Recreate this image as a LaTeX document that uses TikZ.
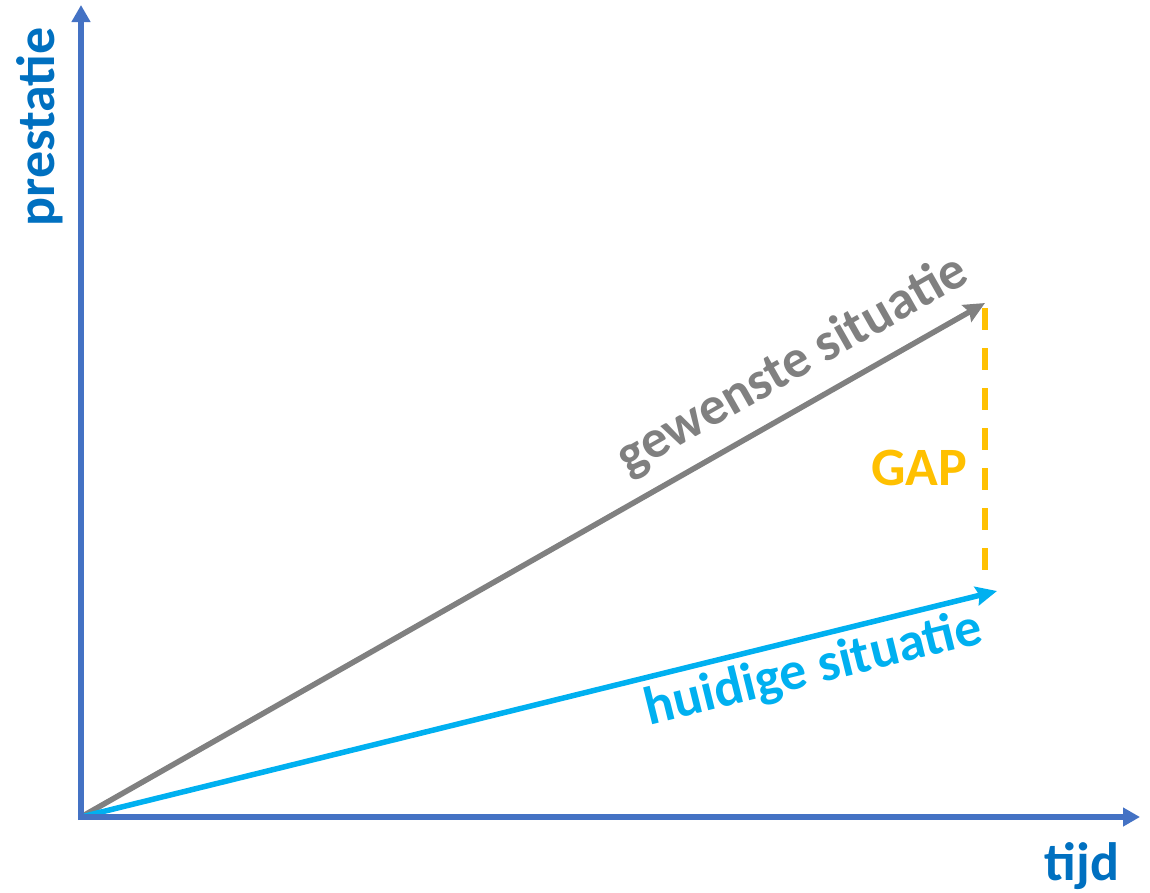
\documentclass[tikz,border=0pt]{standalone}
\usepackage{fontspec}
\setmainfont{Carlito}
\usetikzlibrary{arrows.meta}
\definecolor{axisblue}{HTML}{4472C4}
\definecolor{labelblue}{HTML}{0070C0}
\definecolor{lightblue}{HTML}{00B0F0}
\definecolor{gapgold}{HTML}{FFC000}
\definecolor{midgray}{HTML}{808080}
\tikzset{
  axisline/.style={draw=axisblue, line width=6pt, -{Triangle[length=17pt,width=18pt]}},
  trendline/.style={line width=5.5pt, -{Stealth[length=21pt,width=19pt,inset=3pt]}},
  gapline/.style={draw=gapgold, line width=6pt, dash pattern=on 22pt off 18pt},
  lbl/.style={inner sep=0pt, anchor=base, font=\fontsize{54pt}{60pt}\selectfont\bfseries},
}
\begin{document}
\begin{tikzpicture}[x=1pt,y=-1pt]
\useasboundingbox (0,0) rectangle (1150,892);
\coordinate (O) at (81,817);
\coordinate (ycorner) at (81,820);
\coordinate (xcorner) at (78,817);
\coordinate (ytip) at (81,5);
\coordinate (xtip) at (1140,817);
\coordinate (gtip) at (985,303);
\coordinate (htip) at (997,591);
\coordinate (gaptop) at (985,308);
\coordinate (gapbot) at (985,576);
% trend lines
\draw[trendline, draw=midgray] (O) -- (gtip);
\draw[trendline, draw=lightblue] (O) -- (htip);
% axes
\draw[axisline] (ycorner) -- (ytip);
\draw[axisline] (xcorner) -- (xtip);
% gap
\draw[gapline] (gaptop) -- (gapbot);
% labels
\node[lbl, text=labelblue, rotate=90] (prestatie) at (54,127) {prestatie};
\node[lbl, text=labelblue] (tijd) at (1082,880) {tijd};
\node[lbl, text=midgray, rotate=29.55] (gewenst) at (800,378) {gewenste situatie};
\node[lbl, text=lightblue, rotate=13.9] (huidig) at (817,684) {huidige situatie};
\node[lbl, text=gapgold] (gap) at (919,485) {GAP};
\end{tikzpicture}
\end{document}
